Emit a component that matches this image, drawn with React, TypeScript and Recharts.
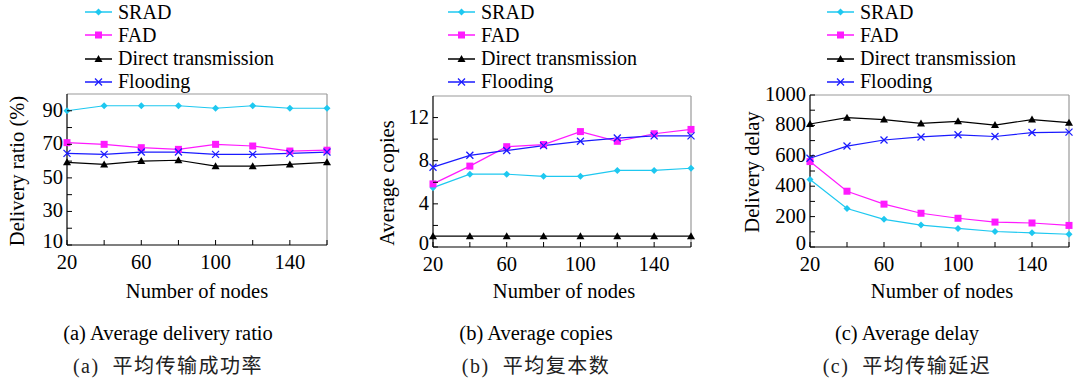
import React from "react";
import { LineChart, Line, XAxis, YAxis, ReferenceLine } from "recharts";

const nodes = [20, 40, 60, 80, 100, 120, 140, 160];

const ratioSRAD = [90, 93, 93, 93, 91.5, 93, 91.5, 91.5];
const ratioFAD = [71, 70, 68, 67, 70, 69, 66, 66.5];
const ratioDirect = [59.3, 58, 60, 60.5, 57, 57, 58, 59.3];
const ratioFlood = [64.6, 64, 65.4, 65.4, 64, 64, 64.6, 65.4];

const copiesSRAD = [5.5, 6.75, 6.75, 6.55, 6.55, 7.1, 7.1, 7.3];
const copiesFAD = [5.85, 7.5, 9.3, 9.5, 10.7, 9.8, 10.5, 10.9];
const copiesDirect = [1, 1, 1, 1, 1, 1, 1, 1];
const copiesFlood = [7.4, 8.5, 8.95, 9.4, 9.8, 10.1, 10.3, 10.3];

const delaySRAD = [444, 253, 182, 144, 122, 102, 93, 84];
const delayFAD = [562, 367, 282, 222, 189, 164, 158, 142];
const delayDirect = [809, 851, 838, 813, 827, 802, 838, 818];
const delayFlood = [584, 664, 704, 724, 738, 727, 753, 756];

const seriesNames = ["SRAD", "FAD", "Direct transmission", "Flooding"];
const xMajor = [20, 60, 100, 140];

const CYAN = "#1ec8f0";
const MAGENTA = "#ff1aff";
const BLACK = "#000";
const BLUE = "#1a1aff";
const colors = [CYAN, MAGENTA, BLACK, BLUE];
const shapes = ["diamond", "square", "triangle", "cross"];

const SERIF = "'Liberation Serif', 'Times New Roman', serif";

function Marker({ cx, cy, shape, color }: any) {
  if (cx == null || cy == null) return null;
  if (shape === "diamond")
    return <path d={`M${cx},${cy - 3.5}L${cx + 3.5},${cy}L${cx},${cy + 3.5}L${cx - 3.5},${cy}Z`} fill={color} />;
  if (shape === "square") return <rect x={cx - 3.5} y={cy - 3.5} width={7} height={7} fill={color} />;
  if (shape === "triangle")
    return <path d={`M${cx},${cy - 4}L${cx + 4},${cy + 3}L${cx - 4},${cy + 3}Z`} fill={color} />;
  return (
    <g stroke={color} strokeWidth={1.3}>
      <line x1={cx - 3.5} y1={cy - 3.5} x2={cx + 3.5} y2={cy + 3.5} />
      <line x1={cx - 3.5} y1={cy + 3.5} x2={cx + 3.5} y2={cy - 3.5} />
    </g>
  );
}

function XTick({ x, y, payload }: any) {
  const major = xMajor.includes(payload.value);
  return (
    <g>
      <line x1={x} x2={x} y1={y} y2={y - 5} stroke="#000" />
      {major && (
        <text x={x} y={y + 24} textAnchor="middle" fontSize={20.5} fontFamily={SERIF} fill="#000">
          {payload.value}
        </text>
      )}
    </g>
  );
}

function makeYTick(majors: number[]) {
  return ({ x, y, payload }: any) => {
    const major = majors.includes(payload.value);
    // lowest label sits a little higher so it clears the x tick labels
    const dy = payload.value === majors[0] ? 3 : 6;
    return (
      <g>
        <line x1={x} x2={x + 5} y1={y} y2={y} stroke="#000" />
        {major && (
          <text x={x - 4} y={y + dy} textAnchor="end" fontSize={20.5} fontFamily={SERIF} fill="#000">
            {payload.value}
          </text>
        )}
      </g>
    );
  };
}

interface PanelProps {
  left: number;
  width: number;
  plot: { l: number; r: number; t: number; b: number };
  values: number[][];
  yDomain: [number, number];
  yTicks: number[];
  yMajor: number[];
  yLabel: string;
  yLabelPos: [number, number];
  xLabelX: number;
  legendX: number;
  caption: string;
  captionCn: string;
  captionX: number;
}

function Panel(p: PanelProps) {
  const data = nodes.map((n, i) => ({ nodes: n, s0: p.values[0][i], s1: p.values[1][i], s2: p.values[2][i], s3: p.values[3][i] }));
  const H = 379;
  const YTick = makeYTick(p.yMajor);
  return (
    <div style={{ position: "absolute", left: p.left, top: 0, width: p.width, height: H, fontFamily: SERIF }}>
      <LineChart
        width={p.width}
        height={H}
        data={data}
        margin={{ top: p.plot.t, right: p.width - p.plot.r, bottom: H - p.plot.b - 30, left: 0 }}
      >
        <XAxis
          dataKey="nodes"
          type="number"
          domain={[20, 160]}
          ticks={nodes}
          interval={0}
          height={30}
          tickSize={0}
          tickMargin={0}
          tickLine={false}
          axisLine={{ stroke: "#000", strokeWidth: 1.2 }}
          tick={XTick}
        />
        <YAxis
          type="number"
          domain={p.yDomain}
          ticks={p.yTicks}
          interval={0}
          width={p.plot.l}
          tickSize={0}
          tickMargin={0}
          tickLine={false}
          axisLine={{ stroke: "#000", strokeWidth: 1.2 }}
          tick={YTick}
        />
        <ReferenceLine y={p.yDomain[1]} stroke="#999" strokeWidth={1.2} />
        <ReferenceLine x={160} stroke="#999" strokeWidth={1.2} />
        {[0, 1, 2, 3].map((k) => (
          <Line
            key={k}
            type="linear"
            dataKey={`s${k}`}
            stroke={colors[k]}
            strokeWidth={1.2}
            isAnimationActive={false}
            dot={(d: any) => <Marker key={`${k}-${d.index}`} cx={d.cx} cy={d.cy} shape={shapes[k]} color={colors[k]} />}
          />
        ))}
      </LineChart>
      {seriesNames.map((name, k) => (
        <div key={name} style={{ position: "absolute", left: p.legendX, top: 12 + k * 23.3 - 12, height: 24, display: "flex", alignItems: "center", fontSize: 20, whiteSpace: "nowrap" }}>
          <svg width={28} height={22} style={{ marginRight: 5 }}>
            <line x1={0} x2={27} y1={11} y2={11} stroke={colors[k]} strokeWidth={1.5} />
            <Marker cx={13.5} cy={11} shape={shapes[k]} color={colors[k]} />
          </svg>
          <span>{name}</span>
        </div>
      ))}
      <div style={{ position: "absolute", left: p.yLabelPos[0], top: p.yLabelPos[1], transform: "translate(-50%, -50%) rotate(-90deg)", fontSize: 20.5, whiteSpace: "nowrap" }}>
        {p.yLabel}
      </div>
      <div style={{ position: "absolute", left: p.xLabelX, top: 291, transform: "translate(-50%, -50%)", fontSize: 20.5, whiteSpace: "nowrap" }}>
        Number of nodes
      </div>
      <div style={{ position: "absolute", left: p.captionX, top: 333, transform: "translate(-50%, -50%)", fontSize: 20.5, whiteSpace: "nowrap" }}>
        {p.caption}
      </div>
      <div style={{ position: "absolute", left: p.captionX, top: 364, transform: "translate(-50%, -50%)", fontSize: 20, letterSpacing: 1.5, whiteSpace: "pre", fontFamily: "'Liberation Serif', 'Noto Sans CJK SC', serif", color: "#222" }}>
        {p.captionCn}
      </div>
    </div>
  );
}

export default function App() {
  return (
    <div style={{ position: "absolute", left: 0, top: 0, width: 1075, height: 379, background: "#fff", overflow: "hidden" }}>
      <Panel
        left={0}
        width={345}
        plot={{ l: 67, r: 327, t: 94, b: 245 }}
        values={[ratioSRAD, ratioFAD, ratioDirect, ratioFlood]}
        yDomain={[10, 100]}
        yTicks={[10, 20, 30, 40, 50, 60, 70, 80, 90]}
        yMajor={[10, 30, 50, 70, 90]}
        yLabel="Delivery ratio (%)"
        yLabelPos={[17, 171]}
        xLabelX={197}
        legendX={85}
        caption="(a) Average delivery ratio"
        captionCn="(a)  平均传输成功率"
        captionX={168}
      />
      <Panel
        left={360}
        width={345}
        plot={{ l: 73, r: 331, t: 96, b: 247 }}
        values={[copiesSRAD, copiesFAD, copiesDirect, copiesFlood]}
        yDomain={[0, 14]}
        yTicks={[0, 2, 4, 6, 8, 10, 12]}
        yMajor={[0, 4, 8, 12]}
        yLabel="Average copies"
        yLabelPos={[27, 183]}
        xLabelX={204}
        legendX={88}
        caption="(b) Average copies"
        captionCn="(b)  平均复本数"
        captionX={176}
      />
      <Panel
        left={720}
        width={355}
        plot={{ l: 90, r: 349, t: 95, b: 247 }}
        values={[delaySRAD, delayFAD, delayDirect, delayFlood]}
        yDomain={[0, 1000]}
        yTicks={[0, 100, 200, 300, 400, 500, 600, 700, 800, 900, 1000]}
        yMajor={[0, 200, 400, 600, 800, 1000]}
        yLabel="Delivery delay"
        yLabelPos={[32, 172]}
        xLabelX={222}
        legendX={107}
        caption="(c) Average delay"
        captionCn="(c)  平均传输延迟"
        captionX={187}
      />
    </div>
  );
}
